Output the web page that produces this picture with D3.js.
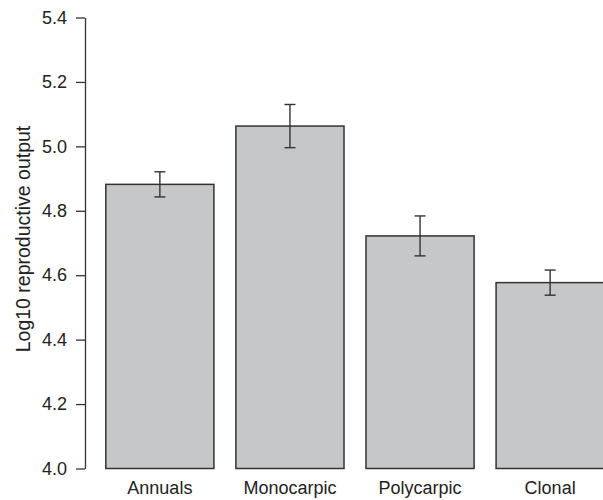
<!DOCTYPE html>
<html lang="en">
<head>
    <meta charset="UTF-8">
    <title>Log10 reproductive output</title>
    <style>
        body { margin: 0; background: #fff; }
        svg { display: block; }
        text { font-family: "Liberation Sans", Arial, sans-serif; fill: #222; }
    </style>
</head>
<body>
    <div id="content"></div>
    <script src="https://d3js.org/d3.v7.min.js"></script>
    <script>
        // data
        var categories = ["Annuals", "Monocarpic", "Polycarpic", "Clonal"];
        var means = [4.882, 5.063, 4.722, 4.577];
        var errors = [0.039, 0.067, 0.062, 0.039];
        var yTicks = [4.0, 4.2, 4.4, 4.6, 4.8, 5.0, 5.2, 5.4];

        var width = 603, height = 500;
        var axisX = 85;

        var svg = d3.select("#content")
            .append("svg")
            .attr("width", width)
            .attr("height", height);

        var y = d3.scaleLinear()
            .domain([4.0, 5.4])
            .range([468.5, 17.5]);

        var x = d3.scaleBand()
            .domain(categories)
            .range([axisX, 625])
            .paddingInner(0.169)
            .paddingOuter(0.16);

        var rows = categories.map(function (c, i) {
            return { name: c, mean: means[i], se: errors[i] };
        });

        // bars
        svg.selectAll("rect.bar")
            .data(rows)
            .enter()
            .append("rect")
            .attr("class", "bar")
            .attr("x", function (d) { return x(d.name); })
            .attr("y", function (d) { return y(d.mean); })
            .attr("width", x.bandwidth())
            .attr("height", function (d) { return y(4.0) - y(d.mean); })
            .style("fill", "#c6c7c9")
            .style("stroke", "#333")
            .style("stroke-width", 1.5);

        // error bars
        var eb = svg.selectAll("g.err")
            .data(rows)
            .enter()
            .append("g")
            .attr("class", "err")
            .attr("transform", function (d) { return "translate(" + (x(d.name) + x.bandwidth() / 2) + ",0)"; })
            .style("stroke", "#333")
            .style("stroke-width", 1.4);

        eb.append("line")
            .attr("y1", function (d) { return y(d.mean + d.se); })
            .attr("y2", function (d) { return y(d.mean - d.se); });
        eb.append("line")
            .attr("x1", -5.5).attr("x2", 5.5)
            .attr("y1", function (d) { return y(d.mean + d.se); })
            .attr("y2", function (d) { return y(d.mean + d.se); });
        eb.append("line")
            .attr("x1", -5.5).attr("x2", 5.5)
            .attr("y1", function (d) { return y(d.mean - d.se); })
            .attr("y2", function (d) { return y(d.mean - d.se); });

        // y axis
        var yAxis = svg.append("g")
            .attr("transform", "translate(" + axisX + ",0)")
            .call(d3.axisLeft(y)
                .tickValues(yTicks)
                .tickFormat(d3.format(".1f"))
                .tickSize(9)
                .tickSizeOuter(0)
                .tickPadding(9));

        yAxis.select(".domain").attr("stroke", "#333").attr("stroke-width", 1.3);
        yAxis.selectAll(".tick line").attr("stroke", "#333").attr("stroke-width", 1.3);
        yAxis.selectAll(".tick text")
            .style("font-size", "18px")
            .style("font-family", "'Liberation Sans', Arial, sans-serif")
            .attr("fill", "#222");

        // category labels
        svg.selectAll("text.cat")
            .data(categories)
            .enter()
            .append("text")
            .attr("class", "cat")
            .attr("x", function (d) { return x(d) + x.bandwidth() / 2; })
            .attr("y", 494)
            .attr("text-anchor", "middle")
            .style("font-size", "18px")
            .text(function (d) { return d; });

        // y label
        svg.append("text")
            .attr("transform", "translate(30,239) rotate(-90)")
            .attr("text-anchor", "middle")
            .style("font-size", "19.5px")
            .text("Log10 reproductive output");
    </script>
</body>
</html>
